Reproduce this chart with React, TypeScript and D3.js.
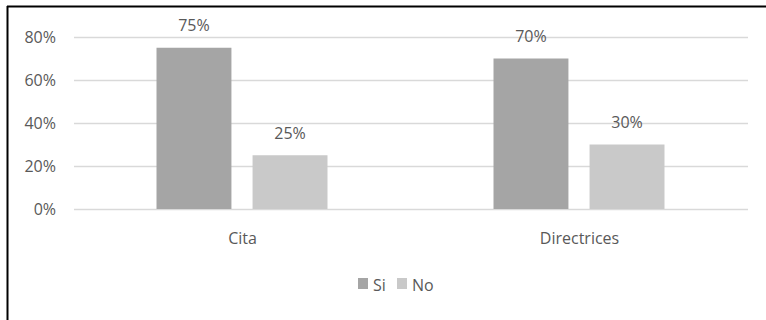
import React from "react";
import * as d3 from "d3";

const categories = ["Cita", "Directrices"];
const seriesNames = ["Si", "No"];
const siValues = [0.75, 0.7];
const noValues = [0.25, 0.3];
const yTicks = [0, 0.2, 0.4, 0.6, 0.8];
const colors = ["#a5a5a5", "#c9c9c9"];

export default function App() {
  const W = 766, H = 320;
  const left = 74, right = 748, top = 37, bottom = 209;
  const x = d3.scaleBand().domain(categories).range([left, right]);
  const y = d3.scaleLinear().domain([0, 0.8]).range([bottom, top]);
  const inner = d3.scaleBand().domain(seriesNames).range([0, 171]).paddingInner(0.22);
  const fmt = d3.format(".0%");
  const series = [siValues, noValues];
  const font = "'Open Sans', 'Liberation Sans', sans-serif";
  const textColor = "#595959";
  const fs = 16;
  return (
    <svg width={W} height={H} style={{ position: "absolute", left: 0, top: 0, background: "#fff" }} fontFamily={font}>
      <line x1={7.5} x2={7.5} y1={6} y2={H} stroke="#000" strokeWidth={2} />
      <line x1={7} x2={W} y1={6.5} y2={6.5} stroke="#000" strokeWidth={2} />
      {yTicks.map((t) => (
        <g key={t}>
          <line x1={left} x2={right} y1={Math.round(y(t)) + 0.5} y2={Math.round(y(t)) + 0.5} stroke="#d9d9d9" strokeWidth={1.5} />
          <text x={56} y={y(t)} dy="0.35em" textAnchor="end" fontSize={fs} fill={textColor}>{fmt(t)}</text>
        </g>
      ))}
      {categories.map((c, ci) => {
        const groupStart = x(c)! + x.bandwidth() / 2 - 86;
        return (
          <g key={c}>
            {seriesNames.map((s, si) => {
              const v = series[si][ci];
              const bx = groupStart + inner(s)!;
              return (
                <g key={s}>
                  <rect x={bx} y={y(v)} width={inner.bandwidth()} height={bottom - y(v)} fill={colors[si]} />
                  <text x={bx + inner.bandwidth() / 2} y={y(v) - 22} dy="0.35em" textAnchor="middle" fontSize={fs} fill={textColor}>{fmt(v)}</text>
                </g>
              );
            })}
            <text x={x(c)! + x.bandwidth() / 2} y={238} dy="0.35em" textAnchor="middle" fontSize={fs} fill={textColor}>{c}</text>
          </g>
        );
      })}
      {seriesNames.map((s, i) => {
        const lx = [358, 397][i];
        return (
          <g key={s}>
            <rect x={lx} y={278} width={10} height={11} fill={colors[i]} />
            <text x={lx + 15} y={285} dy="0.35em" fontSize={fs} fill={textColor}>{s}</text>
          </g>
        );
      })}
    </svg>
  );
}
